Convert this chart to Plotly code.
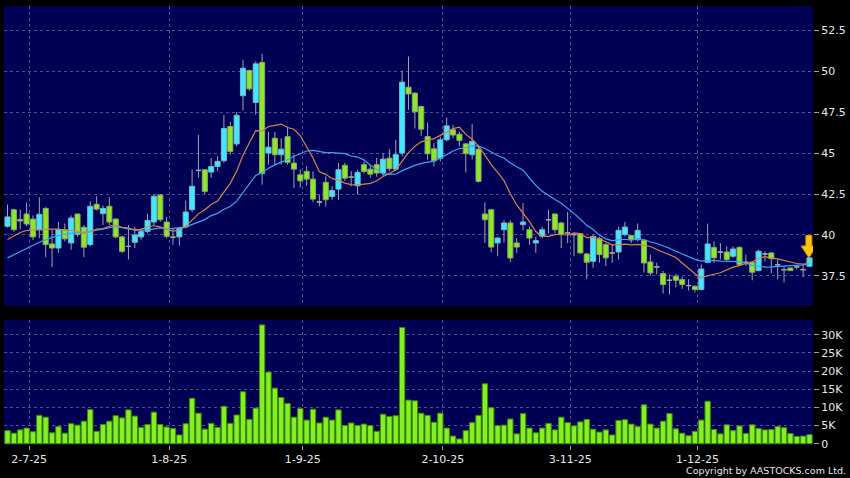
import plotly.graph_objects as go
import pandas as pd

# ---------------- data ----------------
opens = [40.53, 41.54, 40.95, 41.28, 40.97, 40.32, 41.62, 39.45, 39.20, 40.32,
         39.51, 41.28, 40.47, 39.41, 41.87, 41.30, 41.75, 40.97, 39.88, 39.30,
         39.55, 39.88, 40.22, 40.79, 42.44, 40.79, 39.86, 39.88, 40.49, 41.54,
         43.94, 43.98, 43.84, 44.18, 44.53, 46.62, 45.56, 48.50, 50.04, 48.09,
         50.53, 45.00, 45.91, 44.90, 46.00, 44.39, 43.67, 43.88, 43.41, 42.01,
         43.21, 42.35, 42.80, 44.25, 43.53, 43.00, 44.29, 44.02, 44.29, 43.78,
         44.69, 44.02, 45.00, 49.02, 48.66, 47.84, 46.01, 45.26, 44.69, 45.81,
         46.42, 46.15, 45.56, 44.90, 45.24, 41.28, 41.54, 39.51, 40.32, 40.73,
         39.51, 40.63, 40.32, 39.51, 39.92, 40.93, 41.28, 40.73, 40.12, 40.02,
         40.08, 38.84, 38.39, 39.77, 39.41, 38.90, 38.96, 40.02, 39.96, 39.71,
         39.67, 38.35, 38.05, 37.64, 37.23, 37.48, 37.27, 36.91, 36.87, 36.67,
         38.33, 39.24, 38.96, 38.96, 38.70, 39.24, 38.33, 38.33, 37.82, 38.84,
         38.90, 38.18, 37.88, 37.98, 38.05, 37.88, 38.09]
highs = [41.85, 41.60, 41.55, 41.99, 41.20, 42.30, 41.70, 40.30, 40.80, 40.70,
         41.20, 41.30, 40.60, 42.05, 42.36, 41.80, 42.30, 41.00, 39.95, 40.60,
         40.50, 40.40, 41.30, 42.50, 42.50, 41.10, 40.40, 40.50, 42.10, 44.00,
         46.10, 44.00, 44.70, 44.80, 47.33, 46.90, 47.50, 50.70, 50.10, 50.60,
         51.06, 46.30, 46.30, 45.90, 46.60, 44.90, 44.00, 44.20, 43.88, 42.46,
         43.57, 42.97, 44.39, 44.39, 43.90, 43.98, 44.49, 44.30, 44.70, 45.00,
         45.24, 45.80, 50.04, 50.89, 48.70, 47.90, 46.86, 45.60, 46.00, 47.17,
         46.72, 46.30, 45.60, 46.78, 45.50, 41.99, 41.60, 39.90, 40.90, 40.90,
         39.80, 41.95, 40.50, 39.90, 40.50, 41.54, 41.30, 40.80, 41.40, 40.10,
         40.10, 38.90, 40.00, 39.90, 39.50, 39.40, 40.50, 40.80, 40.00, 40.70,
         39.70, 38.80, 38.30, 37.80, 37.58, 37.60, 37.45, 37.30, 36.90, 38.20,
         40.69, 39.60, 39.50, 39.30, 39.30, 39.30, 38.80, 38.40, 39.10, 39.00,
         38.95, 38.50, 38.10, 38.00, 38.10, 38.20, 38.65]
lows = [40.45, 40.20, 40.35, 40.53, 39.70, 39.80, 38.64, 38.03, 38.90, 39.60,
        39.10, 39.90, 38.64, 39.30, 41.50, 40.60, 40.60, 39.80, 38.90, 38.50,
        39.20, 39.70, 40.10, 40.60, 40.80, 39.80, 39.40, 39.35, 40.40, 41.40,
        43.50, 42.50, 43.50, 43.90, 44.40, 44.90, 45.40, 47.60, 48.80, 47.34,
        43.07, 44.30, 44.29, 44.30, 44.30, 42.86, 42.90, 43.00, 42.00, 41.75,
        41.75, 42.15, 42.15, 43.30, 42.97, 42.46, 43.75, 43.50, 43.55, 43.60,
        43.90, 43.90, 44.80, 47.64, 46.50, 46.05, 44.59, 44.18, 44.50, 45.70,
        45.90, 45.40, 43.82, 44.60, 43.20, 39.51, 38.94, 38.70, 39.53, 38.33,
        38.90, 40.28, 39.40, 38.90, 39.80, 40.10, 40.10, 39.20, 39.50, 38.70,
        38.85, 37.32, 38.00, 38.30, 38.10, 38.30, 38.50, 39.90, 39.50, 39.60,
        37.70, 37.50, 37.60, 36.42, 36.36, 36.80, 36.70, 36.60, 36.50, 36.60,
        38.30, 38.30, 38.50, 38.40, 38.60, 38.10, 38.10, 37.23, 37.80, 38.40,
        37.66, 37.30, 37.10, 37.80, 37.90, 37.43, 38.05]
closes = [41.10, 40.32, 40.85, 40.67, 39.88, 41.26, 39.41, 39.20, 40.32, 39.76,
          41.03, 40.02, 39.25, 41.75, 41.58, 41.62, 40.79, 39.88, 39.00, 39.30,
          40.00, 40.20, 40.89, 42.36, 40.93, 39.92, 39.86, 40.40, 41.40, 42.97,
          43.94, 42.66, 44.18, 44.49, 46.50, 45.10, 47.30, 50.18, 48.92, 50.45,
          43.74, 45.36, 44.90, 45.24, 44.43, 44.02, 43.30, 43.41, 42.19, 42.01,
          42.15, 42.72, 43.98, 43.47, 43.53, 43.82, 43.88, 43.71, 43.78, 44.63,
          44.04, 44.90, 49.33, 48.61, 47.52, 46.46, 44.96, 44.53, 45.81, 46.66,
          46.10, 45.77, 44.96, 45.71, 43.27, 40.93, 39.26, 39.81, 40.73, 38.59,
          39.26, 40.79, 39.81, 39.65, 40.32, 40.93, 40.32, 40.02, 40.12, 40.02,
          38.90, 38.33, 39.91, 38.80, 38.60, 38.90, 40.28, 40.48, 39.71, 40.28,
          38.29, 37.68, 38.05, 36.97, 37.23, 37.23, 36.97, 36.91, 36.67, 37.92,
          39.45, 38.60, 38.96, 38.50, 39.14, 38.18, 38.33, 37.72, 39.00, 38.84,
          38.55, 38.18, 37.88, 37.82, 38.05, 37.88, 38.60]
volumes_k = [3.6, 2.9, 3.8, 4.3, 3.3, 7.8, 7.3, 3.0, 4.7, 2.9,
             5.5, 5.1, 6.2, 9.4, 3.4, 5.3, 6.2, 7.7, 7.1, 9.3,
             7.6, 4.5, 5.3, 8.7, 5.3, 4.6, 4.2, 2.4, 5.5, 12.5,
             8.4, 4.0, 5.6, 4.5, 10.3, 5.6, 7.9, 14.3, 6.7, 9.8,
             32.7, 19.7, 15.3, 12.7, 11.1, 7.3, 9.7, 6.5, 9.5, 5.7,
             7.3, 6.5, 9.3, 5.0, 5.7, 5.0, 5.4, 5.0, 3.4, 8.1,
             7.5, 7.7, 32.0, 12.0, 11.8, 8.4, 7.8, 5.9, 8.4, 4.3,
             2.1, 1.3, 3.6, 5.8, 7.8, 16.5, 9.9, 5.0, 5.1, 6.8,
             2.7, 8.3, 4.3, 3.0, 4.3, 5.6, 3.8, 7.3, 5.8, 4.9,
             6.0, 6.7, 4.0, 3.2, 3.8, 2.4, 6.4, 6.6, 5.4, 4.7,
             10.7, 5.4, 4.3, 6.2, 8.3, 4.1, 2.9, 2.2, 3.4, 6.5,
             11.7, 3.9, 2.7, 5.2, 3.6, 4.9, 2.8, 5.2, 4.2, 3.8,
             3.9, 4.7, 4.4, 2.8, 2.0, 2.1, 2.5]
# moving-average values at the start of the window (history before the first bar)
ma10_head = [39.72, 39.95, 40.15, 40.27, 40.30, 40.33, 40.35, 40.36, 40.36]
ma20_head = [38.60, 38.80, 39.00, 39.20, 39.40, 39.55, 39.70, 39.85, 39.95, 40.05,
             40.10, 40.12, 40.15, 40.20, 40.30, 40.35, 40.45, 40.50, 40.45]

date_tick_index = [3, 25, 46, 68, 88, 108]
date_tick_labels = ["2-7-25", "1-8-25", "1-9-25", "2-10-25", "3-11-25", "1-12-25"]
price_ticks = [37.5, 40, 42.5, 45, 47.5, 50, 52.5]
price_tick_labels = ["37.5", "40", "42.5", "45", "47.5", "50", "52.5"]
vol_ticks = [0, 5, 10, 15, 20, 25, 30]
vol_tick_labels = ["0", "5K", "10K", "15K", "20K", "25K", "30K"]

# ---------------- derived ----------------
n = len(closes)
idx = list(range(n))
cs = pd.Series(closes)
ma10 = cs.rolling(10).mean().tolist()
ma20 = cs.rolling(20).mean().tolist()
ma10[:len(ma10_head)] = ma10_head
ma20[:len(ma20_head)] = ma20_head

NAVY = "#000055"
GRID = "#50508c"
TXT = "#e8e8e8"
WICK = "#a0a4ac"
UP = "#3ee8ff"
UP_EDGE = "#7ab8c8"
DOWN = "#8ee82a"
DOWN_EDGE = "#86aa60"
FONT = "DejaVu Sans"
BODY_W = 0.8
tickpos = [i + 0.4 for i in date_tick_index]

body_top = [max(o, c) for o, c in zip(opens, closes)]
body_base = [min(o, c) for o, c in zip(opens, closes)]
body_h = [t - b for t, b in zip(body_top, body_base)]
body_col = [UP if c > o else DOWN for o, c in zip(opens, closes)]
body_edge = [UP_EDGE if c > o else DOWN_EDGE for o, c in zip(opens, closes)]

# wicks: low -> body bottom and body top -> high (so they never cross the body)
wx, wy = [], []
for i in idx:
    wx += [i, i, None, i, i, None]
    wy += [lows[i], body_base[i], None, body_top[i], highs[i], None]

# flat (open == close) candles drawn as short horizontal strokes
dx, dy = [], []
for i in idx:
    if body_h[i] < 1e-9:
        dx += [i - BODY_W / 2, i + BODY_W / 2, None]
        dy += [closes[i], closes[i], None]

fig = go.Figure()
fig.add_trace(go.Scatter(x=wx, y=wy, mode="lines", line=dict(color=WICK, width=1),
                         hoverinfo="skip", xaxis="x", yaxis="y"))
fig.add_trace(go.Bar(x=idx, y=body_h, base=body_base, width=BODY_W,
                     marker=dict(color=body_col, line=dict(color=body_edge, width=1)),
                     hoverinfo="skip", xaxis="x", yaxis="y"))
fig.add_trace(go.Scatter(x=dx, y=dy, mode="lines", line=dict(color=WICK, width=1.3),
                         hoverinfo="skip", xaxis="x", yaxis="y"))
fig.add_trace(go.Scatter(x=idx, y=ma20, mode="lines",
                         line=dict(color="#3aa6ee", width=1.2),
                         hoverinfo="skip", xaxis="x", yaxis="y"))
fig.add_trace(go.Scatter(x=idx, y=ma10, mode="lines",
                         line=dict(color="#d9834a", width=1.2),
                         hoverinfo="skip", xaxis="x", yaxis="y"))
fig.add_trace(go.Bar(x=idx, y=volumes_k, width=0.84,
                     marker=dict(color="#84f024", line=dict(color="#3d8c00", width=1)),
                     hoverinfo="skip", xaxis="x2", yaxis="y2"))

# marker arrow above the last bar
lx, lh = idx[-1] - 0.1, highs[-1]
arrow = (f"M {lx-0.47},{lh+1.32} L {lx+0.47},{lh+1.32} L {lx+0.47},{lh+0.68} "
         f"L {lx+1.2},{lh+0.68} L {lx},{lh-0.05} L {lx-1.2},{lh+0.68} "
         f"L {lx-0.47},{lh+0.68} Z")
fig.add_shape(type="path", path=arrow, xref="x", yref="y",
              fillcolor="#ffc800", line=dict(color="#e08a00", width=1))

xr = [-0.55, n - 0.45]
common_x = dict(range=xr, tickvals=tickpos, showgrid=True, gridcolor=GRID,
                griddash="3px,3px", gridwidth=1, zeroline=False, showline=False,
                fixedrange=True)
fig.update_layout(
    width=850, height=478, autosize=False,
    paper_bgcolor="#000000", plot_bgcolor=NAVY,
    margin=dict(l=4, r=32, t=6, b=33),
    showlegend=False, barmode="overlay",
    font=dict(family=FONT, color=TXT, size=11),
    xaxis=dict(domain=[0, 1], anchor="y", showticklabels=False, ticks="", **common_x),
    xaxis2=dict(domain=[0, 1], anchor="y2", ticktext=date_tick_labels,
                ticks="outside", ticklen=4, tickcolor="#a0a0a0",
                tickfont=dict(family=FONT, size=11, color=TXT), **common_x),
    yaxis=dict(domain=[0.3166, 1], range=[35.66, 53.98], side="right",
               tickvals=price_ticks, ticktext=price_tick_labels,
               ticks="outside", ticklen=5, tickcolor="#a0a0a0",
               showgrid=True, gridcolor=GRID, griddash="3px,3px",
               zeroline=False, showline=False, fixedrange=True,
               tickfont=dict(family=FONT, size=11, color=TXT)),
    yaxis2=dict(domain=[0, 0.2847], range=[-0.36, 34.05], side="right",
                tickvals=vol_ticks, ticktext=vol_tick_labels,
                ticks="outside", ticklen=5, tickcolor="#a0a0a0",
                showgrid=True, gridcolor=GRID, griddash="3px,3px",
                zeroline=False, showline=False, fixedrange=True,
                tickfont=dict(family=FONT, size=11, color=TXT)),
)
fig.add_annotation(text="Copyright by AASTOCKS.com Ltd.", xref="paper", yref="paper",
                   x=1.043, y=-0.059, xanchor="right", yanchor="middle",
                   showarrow=False, font=dict(family=FONT, size=9.5, color=TXT))

fig.write_html("out.html", config={"displayModeBar": False, "staticPlot": True},
               post_script="document.body.style.margin='0px';")
